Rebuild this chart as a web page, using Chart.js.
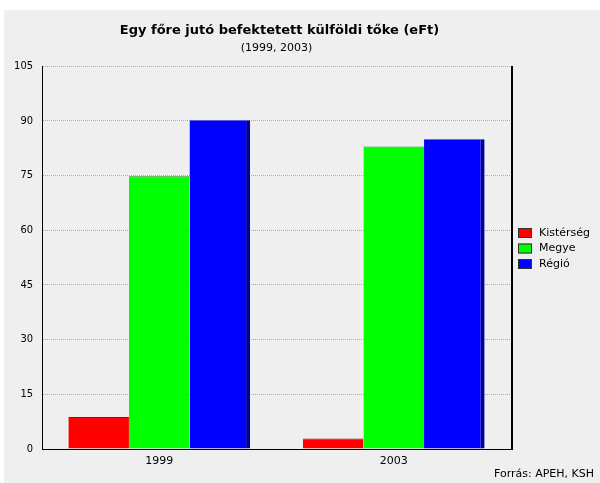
<!DOCTYPE html>
<html>
<head>
<meta charset="utf-8">
<script src="https://cdn.jsdelivr.net/npm/chart.js@4/dist/chart.umd.min.js"></script>
<style>
  body { margin: 0; background: #fff; }
  canvas { display: block; }
</style>
</head>
<body>
<canvas id="chart" width="600" height="483"></canvas>
<script>
'use strict';

var years = ['1999', '2003'];
var kisterseg = [8.8, 2.9];
var megye = [74.8, 82.9];
var regio = [90.1, 84.9];
var yTicks = [0, 15, 30, 45, 60, 75, 90, 105];

var titleText = 'Egy főre jutó befektetett külföldi tőke (eFt)';
var subtitleText = '(1999, 2003)';
var sourceText = 'Forrás: APEH, KSH';
var font = '"DejaVu Sans Condensed", "DejaVu Sans", sans-serif';
var wideFont = '"DejaVu Sans", sans-serif';

// grey panel, titles, frame, legend and source line
var decor = {
  id: 'decor',
  beforeDraw: function(chart) {
    var ctx = chart.ctx;
    ctx.save();
    ctx.fillStyle = '#efefef';
    ctx.fillRect(4, 10, chart.width - 4, chart.height - 10);
    ctx.restore();
  },
  afterDatasetsDraw: function(chart) {
    var ctx = chart.ctx;
    var a = chart.chartArea;
    ctx.save();
    // right edge of the plot
    ctx.strokeStyle = '#000';
    ctx.lineWidth = 2;
    ctx.beginPath();
    ctx.moveTo(a.right + 1, a.top);
    ctx.lineTo(a.right + 1, a.bottom + 1);
    ctx.stroke();
    ctx.restore();
  },
  afterDraw: function(chart) {
    var ctx = chart.ctx;
    var a = chart.chartArea;
    var cx = (a.left + a.right) / 2;
    ctx.save();
    ctx.fillStyle = '#000';
    ctx.textAlign = 'center';
    ctx.textBaseline = 'middle';
    ctx.font = 'bold 13px ' + wideFont;
    ctx.fillText(titleText, cx + 3, 31);
    ctx.font = '11px ' + wideFont;
    ctx.fillText(subtitleText, cx, 48);

    // legend
    ctx.font = '11px ' + wideFont;
    ctx.textAlign = 'left';
    chart.data.datasets.forEach(function(ds, i) {
      var y = 233 + i * 15.5;
      ctx.fillStyle = ds.backgroundColor;
      ctx.fillRect(518, y - 5, 14, 10);
      ctx.strokeStyle = '#333';
      ctx.lineWidth = 1;
      ctx.strokeRect(518.5, y - 4.5, 13, 9);
      ctx.fillStyle = '#000';
      ctx.fillText(ds.label, 539, y);
    });

    ctx.textAlign = 'right';
    ctx.fillText(sourceText, 594, 474);
    ctx.restore();
  }
};

var ctx = document.getElementById('chart').getContext('2d');
var chart = new Chart(ctx, {
  type: 'bar',
  data: {
    labels: years,
    datasets: [{
      label: 'Kistérség',
      data: kisterseg,
      backgroundColor: '#ff0000',
      borderColor: '#b00000',
      borderWidth: { top: 1, left: 0, right: 0, bottom: 0 }
    }, {
      label: 'Megye',
      data: megye,
      backgroundColor: '#00ff00',
      borderColor: '#00a000',
      borderWidth: { top: 1, left: 0, right: 0, bottom: 0 }
    }, {
      label: 'Régió',
      data: regio,
      backgroundColor: '#0000ff',
      borderColor: '#00009a',
      borderWidth: { top: 0, left: 0, right: 4, bottom: 0 }
    }]
  },
  options: {
    responsive: false,
    animation: false,
    layout: { padding: { top: 66, right: 89, bottom: 0, left: 0 } },
    datasets: {
      bar: { categoryPercentage: 0.775, barPercentage: 1.0 }
    },
    plugins: {
      legend: { display: false },
      title: { display: false },
      tooltip: { enabled: false }
    },
    scales: {
      x: {
        grid: { display: false, drawTicks: false },
        border: { display: true, color: '#000', width: 1 },
        ticks: { color: '#000', padding: 6, font: { family: wideFont, size: 11 } },
        afterFit: function(scale) { scale.height = 34; }
      },
      y: {
        min: 0,
        max: 105,
        afterBuildTicks: function(scale) {
          scale.ticks = yTicks.map(function(v) { return { value: v }; });
        },
        grid: { color: '#aaa', drawTicks: false },
        border: { display: true, color: '#000', width: 1, dash: [1, 1] },
        ticks: { color: '#000', padding: 9, font: { family: font, size: 11 } },
        afterFit: function(scale) { scale.width = 42; }
      }
    }
  },
  plugins: [decor]
});
</script>
</body>
</html>
